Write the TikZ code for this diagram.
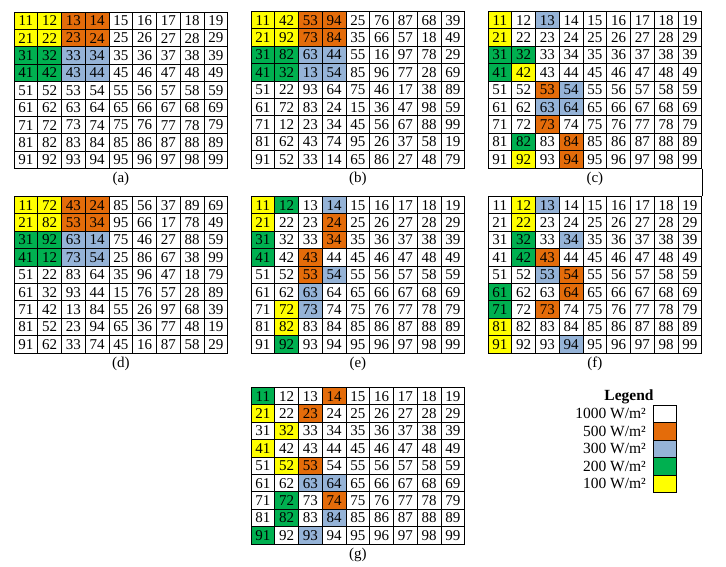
\documentclass[tikz,border=0pt]{standalone}
\usepackage{fontspec}
\setmainfont{Liberation Serif}
\definecolor{cy}{RGB}{255,255,0}
\definecolor{co}{RGB}{228,108,10}
\definecolor{cb}{RGB}{149,179,215}
\definecolor{cg}{RGB}{0,176,80}
\definecolor{cw}{RGB}{255,255,255}
\tikzset{
  cell/.style={draw=black, line width=0.9pt, minimum width=23.75pt, minimum height=17.4pt,
    inner sep=0pt, font=\fontsize{15}{15}\selectfont},
  captext/.style={inner sep=0pt, font=\fontsize{15}{15}\selectfont},
  legbox/.style={draw=black, line width=0.9pt, minimum width=23.4pt, minimum height=17.5pt, inner sep=0pt},
  leglabel/.style={anchor=east, inner sep=0pt, font=\fontsize{15.5}{15.5}\selectfont},
  link/.style={draw=black, line width=0.9pt}
}
% #1 name, #2 x0, #3 y0, #4 rows of numbers, #5 coloured cells r/c/colour, #6 caption
\newcommand\drawgrid[6]{%
  \foreach \gr/\gc/\gcol in {#5}{%
    \fill[c\gcol] ({#2+(\gc-1)*23.75},{#3+(\gr-1)*17.4}) rectangle ++(23.75,17.4);
  }
  \foreach \rowlist [count=\gr] in {#4}{%
    \foreach \gn [count=\gc] in \rowlist{%
      \node[cell] (#1-\gr-\gc) at ({#2+(\gc-0.5)*23.75},{#3+(\gr-0.5)*17.4}) {\gn};
    }
  }
  \node[captext] (#1-cap) at ({#2+4.5*23.75},{#3+9*17.4+10.5}) {(#6)};
}
\begin{document}
\begin{tikzpicture}[x=1pt,y=-1pt]
\useasboundingbox[fill=white] (0,0) rectangle (726,567);

\drawgrid{a}{14}{12}{%
 {11,12,13,14,15,16,17,18,19},{21,22,23,24,25,26,27,28,29},{31,32,33,34,35,36,37,38,39},
 {41,42,43,44,45,46,47,48,49},{51,52,53,54,55,56,57,58,59},{61,62,63,64,65,66,67,68,69},
 {71,72,73,74,75,76,77,78,79},{81,82,83,84,85,86,87,88,89},{91,92,93,94,95,96,97,98,99}}%
 {1/1/y,1/2/y,1/3/o,1/4/o,2/1/y,2/2/y,2/3/o,2/4/o,3/1/g,3/2/g,3/3/b,3/4/b,4/1/g,4/2/g,4/3/b,4/4/b}{a}

\drawgrid{b}{251}{11.5}{%
 {11,42,53,94,25,76,87,68,39},{21,92,73,84,35,66,57,18,49},{31,82,63,44,55,16,97,78,29},
 {41,32,13,54,85,96,77,28,69},{51,22,93,64,75,46,17,38,89},{61,72,83,24,15,36,47,98,59},
 {71,12,23,34,45,56,67,88,99},{81,62,43,74,95,26,37,58,19},{91,52,33,14,65,86,27,48,79}}%
 {1/1/y,1/2/y,1/3/o,1/4/o,2/1/y,2/2/y,2/3/o,2/4/o,3/1/g,3/2/g,3/3/b,3/4/b,4/1/g,4/2/g,4/3/b,4/4/b}{b}

\drawgrid{c}{488}{11.5}{%
 {11,12,13,14,15,16,17,18,19},{21,22,23,24,25,26,27,28,29},{31,32,33,34,35,36,37,38,39},
 {41,42,43,44,45,46,47,48,49},{51,52,53,54,55,56,57,58,59},{61,62,63,64,65,66,67,68,69},
 {71,72,73,74,75,76,77,78,79},{81,82,83,84,85,86,87,88,89},{91,92,93,94,95,96,97,98,99}}%
 {1/1/y,1/3/b,2/1/y,3/1/g,3/2/g,4/1/g,4/2/y,5/3/o,5/4/b,6/3/b,6/4/b,7/3/o,8/2/g,8/4/o,9/2/y,9/4/o}{c}

\drawgrid{d}{14}{196.5}{%
 {11,72,43,24,85,56,37,89,69},{21,82,53,34,95,66,17,78,49},{31,92,63,14,75,46,27,88,59},
 {41,12,73,54,25,86,67,38,99},{51,22,83,64,35,96,47,18,79},{61,32,93,44,15,76,57,28,89},
 {71,42,13,84,55,26,97,68,39},{81,52,23,94,65,36,77,48,19},{91,62,33,74,45,16,87,58,29}}%
 {1/1/y,1/2/y,1/3/o,1/4/o,2/1/y,2/2/y,2/3/o,2/4/o,3/1/g,3/2/g,3/3/b,3/4/b,4/1/g,4/2/g,4/3/b,4/4/b}{d}

\drawgrid{e}{251}{196.5}{%
 {11,12,13,14,15,16,17,18,19},{21,22,23,24,25,26,27,28,29},{31,32,33,34,35,36,37,38,39},
 {41,42,43,44,45,46,47,48,49},{51,52,53,54,55,56,57,58,59},{61,62,63,64,65,66,67,68,69},
 {71,72,73,74,75,76,77,78,79},{81,82,83,84,85,86,87,88,89},{91,92,93,94,95,96,97,98,99}}%
 {1/1/y,1/2/g,1/4/b,2/1/y,2/4/o,3/1/g,3/4/o,4/1/g,4/3/o,5/3/o,5/4/b,6/3/b,7/2/y,7/3/b,8/2/y,9/2/g}{e}

\drawgrid{f}{488}{196.5}{%
 {11,12,13,14,15,16,17,18,19},{21,22,23,24,25,26,27,28,29},{31,32,33,34,35,36,37,38,39},
 {41,42,43,44,45,46,47,48,49},{51,52,53,54,55,56,57,58,59},{61,62,63,64,65,66,67,68,69},
 {71,72,73,74,75,76,77,78,79},{81,82,83,84,85,86,87,88,89},{91,92,93,94,95,96,97,98,99}}%
 {1/2/y,1/3/b,2/2/y,3/2/g,3/4/b,4/2/g,4/3/o,5/3/b,5/4/o,6/1/g,6/4/o,7/1/g,7/3/o,8/1/y,9/1/y,9/4/b}{f}

\drawgrid{g}{251}{387.5}{%
 {11,12,13,14,15,16,17,18,19},{21,22,23,24,25,26,27,28,29},{31,32,33,34,35,36,37,38,39},
 {41,42,43,44,45,46,47,48,49},{51,52,53,54,55,56,57,58,59},{61,62,63,64,65,66,67,68,69},
 {71,72,73,74,75,76,77,78,79},{81,82,83,84,85,86,87,88,89},{91,92,93,94,95,96,97,98,99}}%
 {1/1/g,1/4/o,2/1/y,2/3/o,3/2/y,4/1/y,5/2/y,5/3/o,6/3/b,6/4/b,7/2/g,7/4/o,8/2/g,8/4/b,9/1/g,9/3/b}{g}

\draw[link] (c-9-9.south east) -- (f-1-9.north east);

% legend
\node[captext, font=\fontsize{15.5}{15.5}\selectfont\bfseries] (legtitle) at (629,397) {Legend};
\node[legbox, fill=cw] (l1) at (665,413.75) {};
\node[legbox, fill=co] (l2) at (665,431.25) {};
\node[legbox, fill=cb] (l3) at (665,448.75) {};
\node[legbox, fill=cg] (l4) at (665,466.25) {};
\node[legbox, fill=cy] (l5) at (665,483.75) {};
\node[leglabel] (t1) at (646,413.75) {1000 W/m²};
\node[leglabel] (t2) at (646,431.25) {500 W/m²};
\node[leglabel] (t3) at (646,448.75) {300 W/m²};
\node[leglabel] (t4) at (646,466.25) {200 W/m²};
\node[leglabel] (t5) at (646,483.75) {100 W/m²};
\end{tikzpicture}
\end{document}
